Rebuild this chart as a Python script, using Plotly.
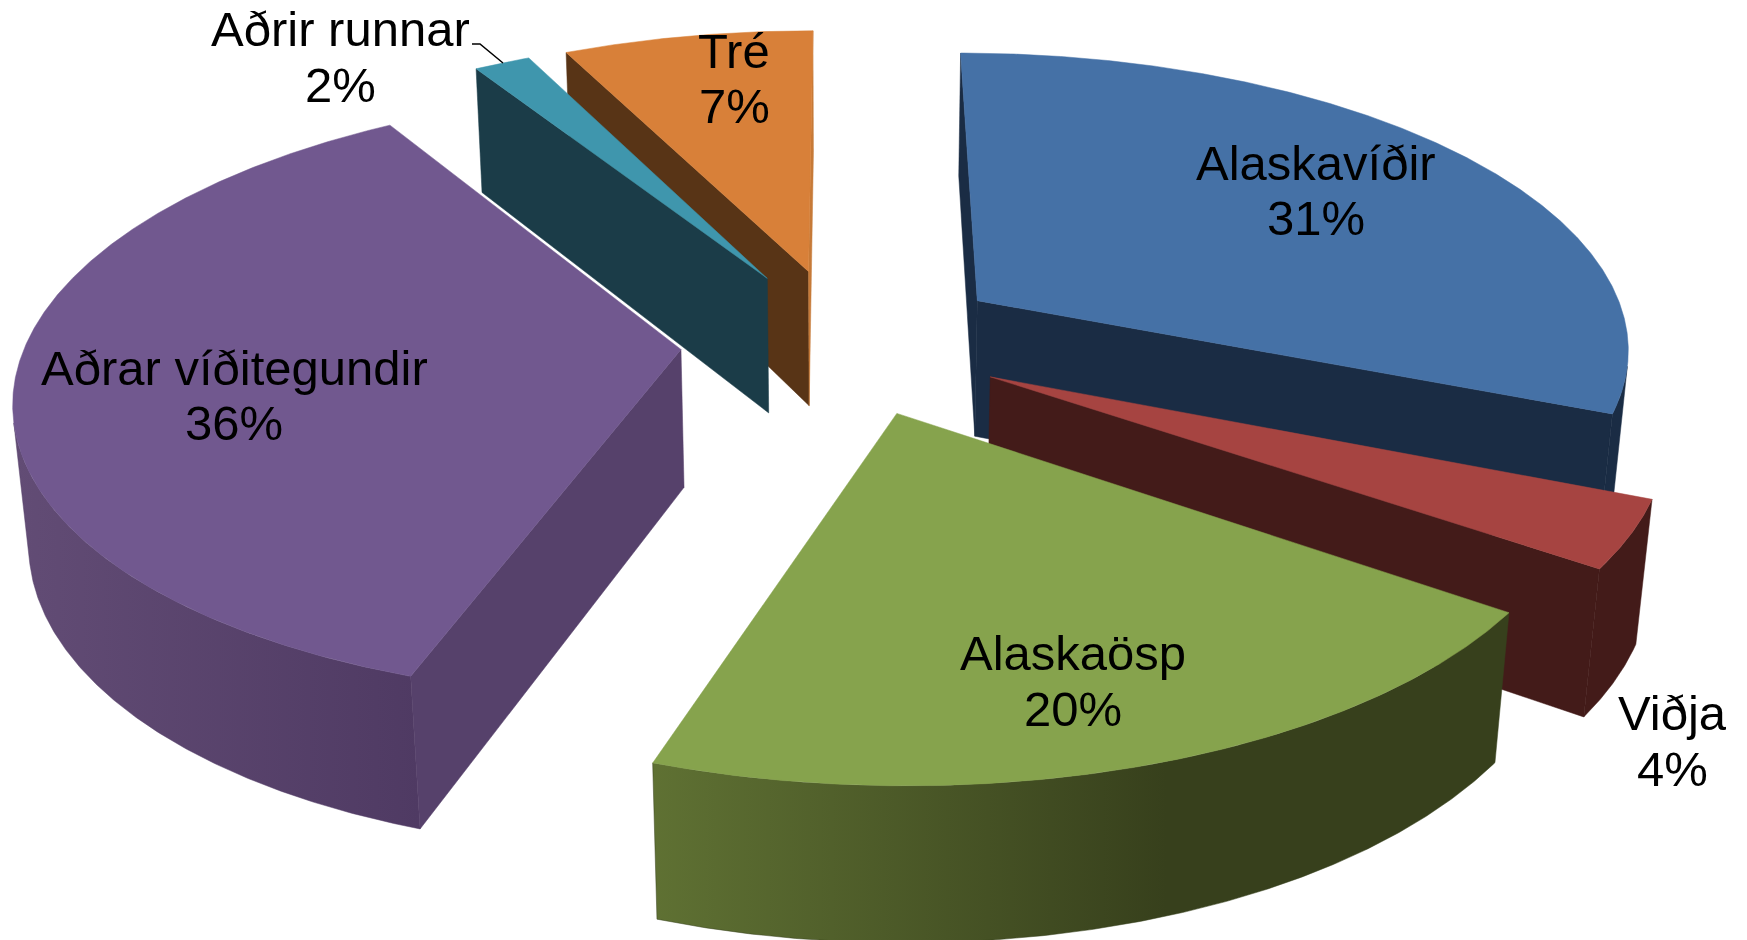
import numpy as np
import plotly.graph_objects as go

# ---- data ----
categories = ["Alaskavíðir", "Viðja", "Alaskaösp", "Aðrar víðitegundir", "Aðrir runnar", "Tré"]
values = [31.18, 3.58, 20.42, 35.95, 1.63, 7.24]
explosion = [0.25, 0.25, 0.25, 0.25, 0.25, 0.25]

top_colors = ["#4571A6", "#A64441", "#86A34D", "#71588F", "#3F96AD", "#D88039"]
side_colors = ["#1A2C44", "#431B19", "#37401C", "#56416B", "#1B3C48", "#583416"]
end_face_colors = {5: "#C67A38"}
rim_gradients = {
    2: [[0, "#5F7133"], [0.6, "#37401C"], [1, "#37401C"]],
    3: [[0, "#624C75"], [1, "#4F3A63"]],
}
draw_order = [5, 4, 0, 1, 3, 2]

label_x = [1316, 1672, 1073, 234, 340, 734]
label_name_y = [163, 713, 653, 368, 29, 51]
label_pct_y = [218, 769, 709, 423, 85, 106]

leader_x = [472, 480, 503]
leader_y = [44, 44, 63]

# ---- 3D pie projection (camera model of the chart) ----
CX, CY, FOCAL, PITCH, DIST, HEIGHT, DEPTH = 844.16, 340.87, 3861.17, 0.4819, 5.9008, 0.2417, 0.9715
CAM_Y, CAM_Z = -DIST * np.cos(PITCH) / DEPTH, DIST * np.sin(PITCH)


def project(X, Y, Z):
    X, Y = np.asarray(X, float), np.asarray(Y, float) * DEPTH
    forward = Y * np.cos(PITCH) - Z * np.sin(PITCH) + DIST
    up = Y * np.sin(PITCH) + Z * np.cos(PITCH)
    return CX + FOCAL * X / forward, CY - FOCAL * up / forward


def polygon(fig, xs, ys, color, gradient=None):
    kw = dict(x=list(xs) + [xs[0]], y=list(ys) + [ys[0]], mode="lines", fill="toself",
              line=dict(width=0.5, color=color), hoverinfo="skip", showlegend=False)
    if gradient:
        kw["fillgradient"] = dict(type="horizontal", colorscale=gradient)
    else:
        kw["fillcolor"] = color
    fig.add_trace(go.Scatter(**kw))


fig = go.Figure()
total = sum(values)
edges = np.concatenate([[0], np.cumsum(values)]) / total * 2 * np.pi

for i in draw_order:
    a, b = edges[i], edges[i + 1]
    mid = (a + b) / 2
    ox, oy = explosion[i] * np.sin(mid), explosion[i] * np.cos(mid)
    theta = np.linspace(a, b, max(int((b - a) * 180), 4))
    arc_x, arc_y = ox + np.sin(theta), oy + np.cos(theta)

    # radial faces
    for ang, sign in ((a, -1), (b, 1)):
        nx, ny = sign * np.cos(ang), -sign * np.sin(ang) / DEPTH
        if nx * (0 - ox) + ny * (CAM_Y - oy) * DEPTH ** 2 > 0:
            ex, ey = ox + np.sin(ang), oy + np.cos(ang)
            X = [ox, ex, ex, ox]
            Y = [oy, ey, ey, oy]
            Z = np.array([0, 0, -HEIGHT, -HEIGHT])
            sx, sy = project(X, Y, Z)
            color = end_face_colors.get(i, side_colors[i]) if sign > 0 else side_colors[i]
            polygon(fig, sx.tolist(), sy.tolist(), color)

    # outer rim, the part facing the camera
    facing = np.sin(theta) * (0 - arc_x) + np.cos(theta) / DEPTH * (CAM_Y - arc_y) * DEPTH ** 2 > 0
    if facing.any():
        rx, ry = arc_x[facing], arc_y[facing]
        tx, ty = project(rx, ry, np.zeros_like(rx))
        bx, by = project(rx, ry, -HEIGHT * np.ones_like(rx))
        polygon(fig, np.r_[tx, bx[::-1]].tolist(), np.r_[ty, by[::-1]].tolist(),
                side_colors[i], rim_gradients.get(i))

    # top face
    X = np.r_[ox, arc_x]
    Y = np.r_[oy, arc_y]
    sx, sy = project(X, Y, np.zeros_like(X))
    polygon(fig, sx.tolist(), sy.tolist(), top_colors[i])

fig.add_trace(go.Scatter(x=leader_x, y=leader_y, mode="lines", line=dict(color="#000000", width=1.5),
                         hoverinfo="skip", showlegend=False))

font = dict(family="Liberation Sans, Arial, sans-serif", size=49, color="#000000")
for name, v, x, y1, y2 in zip(categories, values, label_x, label_name_y, label_pct_y):
    fig.add_annotation(x=x, y=y1, text=name, showarrow=False, font=font, xanchor="center", yanchor="middle")
    fig.add_annotation(x=x, y=y2, text=f"{round(v)}%", showarrow=False, font=font, xanchor="center", yanchor="middle")

fig.update_layout(width=1747, height=940, margin=dict(l=0, r=0, t=0, b=0),
                  paper_bgcolor="#FFFFFF", plot_bgcolor="#FFFFFF", showlegend=False,
                  xaxis=dict(range=[0, 1747], visible=False, fixedrange=True),
                  yaxis=dict(range=[940, 0], visible=False, fixedrange=True))
fig.write_html("out.html", post_script="document.body.style.margin='0';", config={"displayModeBar": False})
